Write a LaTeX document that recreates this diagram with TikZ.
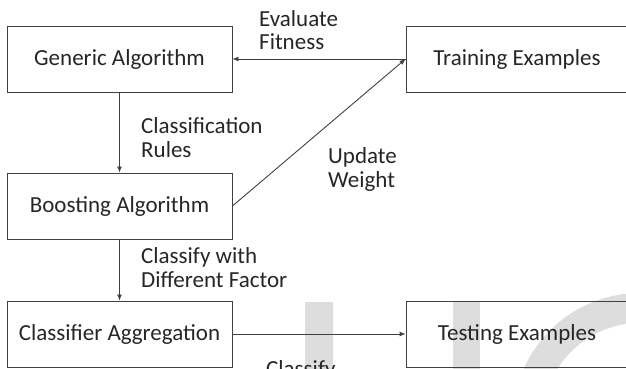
\documentclass[tikz,border=0pt]{standalone}
\usepackage{fontspec}
\setmainfont{Carlito}
\usetikzlibrary{arrows.meta}
\definecolor{boxline}{RGB}{64,64,64}
\definecolor{inktext}{RGB}{38,38,38}
\definecolor{wmark}{RGB}{221,221,221}
\tikzset{stage/.style={draw=boxline,line width=0.9pt,
        minimum width=225pt,minimum height=66pt,inner sep=0pt,text=inktext},
    flow/.style={draw=boxline,line width=0.9pt,-{Latex[length=6pt,width=5pt]}},
    note/.style={align=left,anchor=base west,inner sep=0pt,text=inktext}}

\begin{document}
\begin{tikzpicture}[x=1pt,y=-1pt,font=\fontsize{23}{23.5}\selectfont]
      \useasboundingbox (0,0) rectangle (626,369);
      % faint lettering in the background
      \fill[wmark] (305,302) rectangle (333,370);
      \fill[wmark] (453,302) rectangle (480,370);
      \fill[wmark,shift={(640,420)}] (190:127) arc[start angle=190,end angle=300,radius=127]
        -- (300:97) arc[start angle=300,end angle=190,radius=97] -- cycle;
      % stages
      \node[stage] (generic) at (119.5,59) {Generic Algorithm};
      \node[stage] (boosting) at (119.5,206) {Boosting Algorithm};
      \node[stage] (aggregate) at (119.5,334) {Classifier Aggregation};
      \node[stage,minimum width=222pt] (training) at (517,59) {Training Examples};
      \node[stage,minimum width=222pt] (testing) at (517,334) {Testing Examples};
      % connectors
      \draw[flow] (training.west) -- (generic.east);
      \draw[flow] (generic) -- (boosting);
      \draw[flow] (boosting.east) -- (training.west);
      \draw[flow] (boosting) -- (aggregate);
      \draw[flow] (aggregate) -- (testing);
      % labels (base anchor sits on the last line)
      \node[note] (fitness) at (259,50) {Evaluate\\Fitness};
      \node[note] (rules) at (141,157) {Classification\\Rules};
      \node[note] (reweight) at (328,187) {Update\\Weight};
      \node[note] (factor) at (141,287) {Classify with\\Different Factor};
      \node[note] (classify) at (266,376) {Classify};
\end{tikzpicture}
\end{document}
